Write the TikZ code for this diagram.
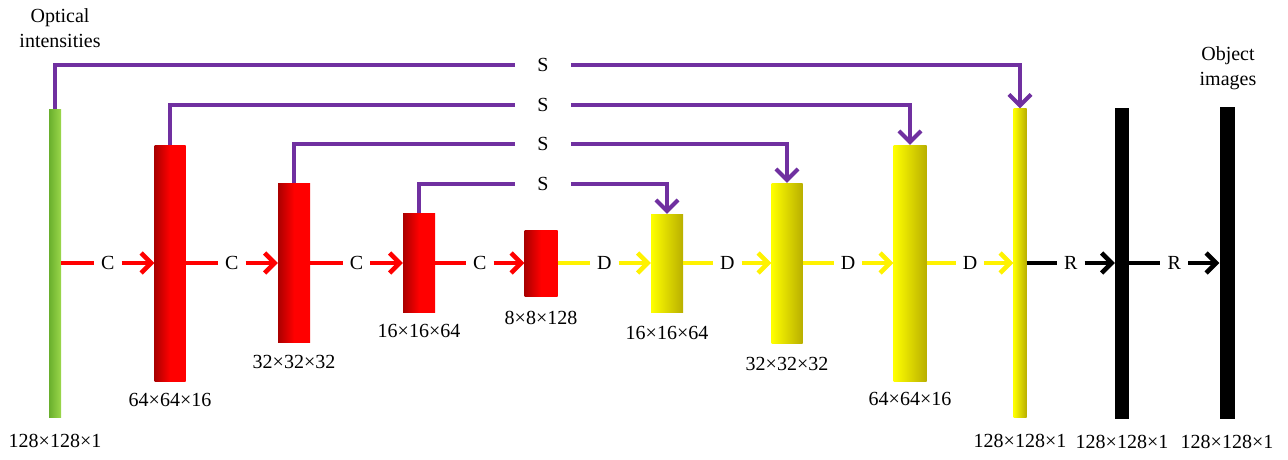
\documentclass[tikz,border=0pt]{standalone}
\usepackage{fontspec}
\setmainfont{Liberation Serif}
\usetikzlibrary{arrows.meta,positioning,calc}

\definecolor{skipcol}{RGB}{112,48,160}
\definecolor{reddark}{RGB}{170,0,0}
\definecolor{ylwdark}{RGB}{185,175,0}
\definecolor{grndark}{RGB}{105,175,45}
\definecolor{grnlight}{RGB}{155,215,75}

\tikzset{
    every node/.style={font=\fontsize{20}{25}\selectfont},
    bar/.style={rectangle, inner sep=0pt},
    grnbar/.style={bar, left color=grndark, right color=grnlight},
    redbar/.style={bar, left color=reddark, right color=red, middle color=red},
    ylwbar/.style={bar, left color=yellow, middle color=yellow, right color=ylwdark},
    blkbar/.style={bar, fill=black},
    op/.style={inner xsep=7pt, inner ysep=2pt},
    dim/.style={inner sep=2pt},
    flow/.style={line width=4.5pt},
    skip/.style={draw=skipcol, line width=4pt},
    tip/.style={-{Straight Barb[length=10pt,width=20pt]}}
}

\begin{document}
\begin{tikzpicture}[x=1pt,y=-1pt]
    \useasboundingbox (0,0) rectangle (1288,459);

    % layers
    \foreach \n/\x/\w/\h/\s in {g/55/12pt/308pt/grnbar, r1/170/31pt/236pt/redbar,
        r2/294/32pt/159pt/redbar, r3/419/32pt/99pt/redbar, r4/541/33pt/66pt/redbar,
        y1/667/32pt/98pt/ylwbar, y2/787/31pt/160pt/ylwbar, y3/910/33pt/236pt/ylwbar,
        y4/1020/13pt/309pt/ylwbar, b1/1122/14pt/311pt/blkbar, b2/1227/15pt/312pt/blkbar}{
        \node[\s, minimum width=\w, minimum height=\h] (\n) at (\x,263) {};
    }

    % sizes
    \foreach \n/\t/\d in {g/128×128×1/15pt, r1/64×64×16/10pt, r2/32×32×32/10pt,
        r3/16×16×64/9pt, r4/8×8×128/13pt, y1/16×16×64/12pt, y2/32×32×32/12pt,
        y3/64×64×16/9pt, y4/128×128×1/14pt, b1/128×128×1/14pt, b2/128×128×1/14pt}{
        \node[dim, below=\d of \n] (d\n) {\t};
    }

    \node[align=center] (inp) at (60,28) {Optical\\intensities};
    \node[align=center] (outp) at (1228,68) {Object\\images};

    % main path
    \foreach \a/\b/\t/\c in {g/r1/C/red, r1/r2/C/red, r2/r3/C/red, r3/r4/C/red,
        r4/y1/D/yellow, y1/y2/D/yellow, y2/y3/D/yellow, y3/y4/D/yellow,
        y4/b1/R/black, b1/b2/R/black}{
        \node[op] (o\a) at ($(\a.east)!0.5!(\b.west)$) {\t};
        \draw[flow, \c] (\a.east) -- (o\a);
        \draw[flow, \c, tip] (o\a) -- (\b.west);
    }

    % skip connections
    \foreach \a/\b/\y in {g/y4/65, r1/y3/105, r2/y2/144, r3/y1/184}{
        \node[op, inner xsep=22pt] (s\a) at (543,\y) {S};
        \draw[skip] (\a.north) |- (s\a);
        \draw[skip, -{Straight Barb[length=11pt,width=22pt]}] (s\a) -| (\b.north);
    }
\end{tikzpicture}
\end{document}
